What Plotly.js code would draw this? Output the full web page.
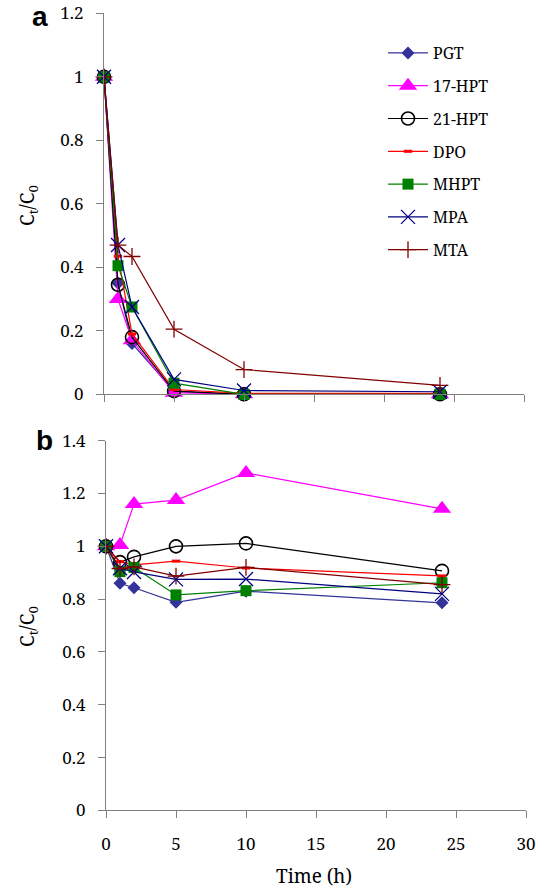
<!DOCTYPE html>
<html>
<head>
<meta charset="utf-8">
<script src="https://cdn.plot.ly/plotly-3.0.1.min.js"></script>
</head>
<body style="margin:0">
<div id="chart"></div>
<script>
// ---- data ----
const time = [0, 1, 2, 5, 10, 24];
const seriesNames = ["PGT", "17-HPT", "21-HPT", "DPO", "MHPT", "MPA", "MTA"];

// panel a
const aPGT   = [1, 0.35, 0.16, 0.01, 0, 0];
const aHPT17 = [1, 0.30, 0.17, 0.005, 0, 0];
const aHPT21 = [1, 0.345, 0.18, 0.01, 0, 0];
const aDPO   = [1, 0.435, 0.19, 0.015, 0.003, 0.003];
const aMHPT  = [1, 0.405, 0.275, 0.035, 0, 0];
const aMPA   = [1, 0.47, 0.275, 0.047, 0.012, 0.008];
const aMTA   = [1, 0.47, 0.434, 0.205, 0.078, 0.028];

// panel b
const bPGT   = [1, 0.86, 0.843, 0.788, 0.83, 0.786];
const bHPT17 = [1, 1.005, 1.16, 1.175, 1.278, 1.142];
const bHPT21 = [1, 0.94, 0.96, 1.0, 1.011, 0.907];
const bDPO   = [1, 0.942, 0.93, 0.944, 0.918, 0.888];
const bMHPT  = [1, 0.904, 0.92, 0.816, 0.832, 0.862];
const bMPA   = [1, 0.917, 0.903, 0.875, 0.876, 0.82];
const bMTA   = [1, 0.916, 0.922, 0.887, 0.92, 0.855];

const yTicksA = [0, 0.2, 0.4, 0.6, 0.8, 1, 1.2];
const yTicksB = [0, 0.2, 0.4, 0.6, 0.8, 1, 1.2, 1.4];
const xTicks = [0, 5, 10, 15, 20, 25, 30];

// ---- styles ----
const styles = [
  {color: "#333399", marker: {symbol: "diamond", size: 10, color: "#333399"}},
  {color: "#FF00FF", marker: {symbol: "triangle-up", size: 16, color: "#FF00FF"}},
  {color: "#000000", marker: {symbol: "circle-open", size: 13, color: "#000000", line: {width: 1.6, color: "#000000"}}},
  {color: "#FF0000", marker: {symbol: "line-ew-open", size: 6, color: "#FF0000", line: {width: 3, color: "#FF0000"}}},
  {color: "#008000", marker: {symbol: "square", size: 11, color: "#008000"}},
  {color: "#000080", marker: {symbol: "x-thin-open", size: 14, color: "#000080", line: {width: 1.3, color: "#000080"}}},
  {color: "#800000", marker: {symbol: "cross-thin-open", size: 12, color: "#800000", line: {width: 1.3, color: "#800000"}}}
];

const dataA = [aPGT, aHPT17, aHPT21, aDPO, aMHPT, aMPA, aMTA];
const dataB = [bPGT, bHPT17, bHPT21, bDPO, bMHPT, bMPA, bMTA];

const traces = [];
dataA.forEach((ys, i) => {
  traces.push({
    x: time, y: ys, name: seriesNames[i], type: "scatter", mode: "lines+markers",
    xaxis: "x", yaxis: "y", legendgroup: "g" + i, cliponaxis: false,
    line: {color: styles[i].color, width: 1.2}, marker: styles[i].marker
  });
});
dataB.forEach((ys, i) => {
  traces.push({
    x: time, y: ys, name: seriesNames[i], type: "scatter", mode: "lines+markers",
    xaxis: "x2", yaxis: "y2", legendgroup: "g" + i, showlegend: false, cliponaxis: false,
    line: {color: styles[i].color, width: 1.2}, marker: styles[i].marker
  });
});

const W = 542, H = 892;
const SERIF = "Noto Serif";
const SANS = "Liberation Sans";
function axisBase() {
  return {
    showgrid: false, zeroline: false, showline: true, linecolor: "#808080", linewidth: 1,
    ticks: "outside", ticklen: 7, tickcolor: "#808080", tickwidth: 1,
    tickfont: {family: SERIF, size: 17, color: "#000000"}
  };
}

const layout = {
  width: W, height: H,
  margin: {l: 0, r: 0, t: 0, b: 0},
  paper_bgcolor: "#ffffff", plot_bgcolor: "#ffffff",
  showlegend: true,
  font: {family: SERIF, size: 16, color: "#000000"},
  legend: {
    x: 383 / W, y: 1 - 36 / H, xanchor: "left", yanchor: "top",
    font: {family: SERIF, size: 16, color: "#000000"},
    tracegroupgap: 9, bgcolor: "rgba(0,0,0,0)", itemwidth: 40
  },
  xaxis: Object.assign(axisBase(), {
    domain: [104 / W, 524 / W], range: [0, 30], anchor: "y",
    tickvals: xTicks, showticklabels: false
  }),
  yaxis: Object.assign(axisBase(), {
    domain: [1 - 394.3 / H, 1 - 13.3 / H], range: [0, 1.2], anchor: "x",
    tickvals: yTicksA, ticklabelstandoff: 9
  }),
  xaxis2: Object.assign(axisBase(), {
    domain: [106 / W, 526 / W], range: [0, 30], anchor: "y2",
    tickvals: xTicks, ticklabelstandoff: 11
  }),
  yaxis2: Object.assign(axisBase(), {
    domain: [1 - 810.4 / H, 1 - 440.7 / H], range: [0, 1.4], anchor: "x2",
    tickvals: yTicksB, ticklabelstandoff: 9
  }),
  annotations: [
    {text: "<b>a</b>", xref: "paper", yref: "paper", x: 40 / W, y: 1 - 16 / H,
     xanchor: "center", yanchor: "middle",
     showarrow: false, font: {family: SANS, size: 28, color: "#000000"}},
    {text: "<b>b</b>", xref: "paper", yref: "paper", x: 44 / W, y: 1 - 440 / H,
     xanchor: "center", yanchor: "middle",
     showarrow: false, font: {family: SANS, size: 28, color: "#000000"}},
    {text: "C<sub>t</sub>/C<sub>0</sub>", xref: "paper", yref: "paper", x: 28 / W, y: 1 - 206 / H,
     xanchor: "center", yanchor: "middle",
     textangle: -90, showarrow: false, font: {family: SERIF, size: 19, color: "#000000"}},
    {text: "C<sub>t</sub>/C<sub>0</sub>", xref: "paper", yref: "paper", x: 28 / W, y: 1 - 627 / H,
     xanchor: "center", yanchor: "middle",
     textangle: -90, showarrow: false, font: {family: SERIF, size: 19, color: "#000000"}},
    {text: "Time (h)", xref: "paper", yref: "paper", x: 314 / W, y: 1 - 876 / H,
     xanchor: "center", yanchor: "middle",
     showarrow: false, font: {family: SERIF, size: 19, color: "#000000"}}
  ]
};

Plotly.newPlot("chart", traces, layout, {staticPlot: true});
</script>
</body>
</html>
